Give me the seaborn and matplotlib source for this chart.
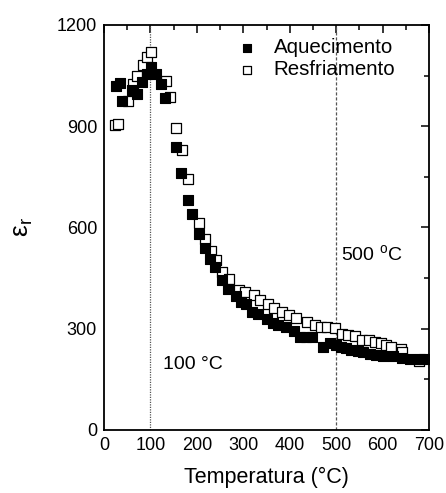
import matplotlib
matplotlib.use("Agg")
import matplotlib.pyplot as plt
import seaborn as sns
import pandas as pd
from matplotlib.ticker import MultipleLocator

# Aquecimento (heating) - filled squares
heat_T = [26, 34, 39, 61, 70, 82, 92, 101, 112, 123, 132, 155, 166, 180, 190,
          205, 217, 228, 239, 254, 268, 284, 294, 306, 318, 332, 350, 365, 375,
          393, 409, 422, 435, 449, 472, 487, 500, 510, 521, 533, 546, 557, 573,
          586, 600, 622, 641, 658, 681, 690]
heat_eps = [1019, 1028, 975, 1008, 997, 1032, 1054, 1077, 1056, 1026, 984, 838,
            760, 680, 639, 581, 538, 506, 484, 444, 417, 397, 380, 373, 351,
            344, 328, 318, 311, 304, 293, 277, 275, 276, 247, 259, 253, 247,
            242, 237, 235, 232, 225, 222, 220, 218, 212, 209, 209, 210]

# Resfriamento (cooling) - open squares
cool_T = [24, 31, 52, 62, 71, 83, 92, 101, 133, 143, 156, 167, 180, 205, 217,
          230, 241, 255, 270, 290, 304, 322, 337, 354, 366, 383, 398, 414, 438,
          454, 467, 481, 497, 512, 526, 541, 555, 571, 584, 596, 607, 618, 639,
          641, 679]
cool_eps = [905, 906, 975, 1026, 1048, 1080, 1106, 1121, 1035, 986, 896, 830,
            745, 614, 566, 530, 504, 468, 447, 416, 410, 400, 385, 373, 362,
            351, 341, 331, 321, 311, 305, 304, 302, 284, 281, 279, 267, 267,
            262, 257, 252, 247, 240, 230, 203]

x_ticks = [0, 100, 200, 300, 400, 500, 600, 700]
y_ticks = [0, 300, 600, 900, 1200]

df = pd.concat([
    pd.DataFrame({"T": heat_T, "eps": heat_eps, "serie": "Aquecimento"}),
    pd.DataFrame({"T": cool_T, "eps": cool_eps, "serie": "Resfriamento"}),
])

sns.set_style("white")
plt.rcParams['font.family'] = ['Liberation Sans', 'DejaVu Sans']
plt.rcParams['mathtext.fontset'] = 'custom'
plt.rcParams['mathtext.rm'] = 'Liberation Sans'
plt.rcParams['mathtext.it'] = 'Liberation Sans'
for k in ['text.color', 'axes.labelcolor', 'xtick.color', 'ytick.color']:
    plt.rcParams[k] = 'black'

fig = plt.figure(figsize=(4.46, 4.93), dpi=100)
ax = fig.add_axes([0.2332, 0.1278, 0.7287, 0.8215])

ax.axvline(100, color="#555555", lw=0.9, ls=(0, (1, 1)), zorder=1)
ax.axvline(500, color="#555555", lw=0.9, ls=(0, (2.5, 1.5)), zorder=1)

sns.scatterplot(data=df[df.serie == "Aquecimento"], x="T", y="eps", ax=ax,
                marker="s", s=54, color="black", edgecolor="black",
                linewidth=0.8, label="Aquecimento", zorder=3)
sns.scatterplot(data=df[df.serie == "Resfriamento"], x="T", y="eps", ax=ax,
                marker="s", s=54, facecolor="white", edgecolor="black",
                linewidth=0.9, label="Resfriamento", zorder=2)

ax.set_xlim(0, 700)
ax.set_ylim(0, 1200)
ax.set_xticks(x_ticks)
ax.set_yticks(y_ticks)
ax.xaxis.set_minor_locator(MultipleLocator(50))
ax.yaxis.set_minor_locator(MultipleLocator(150))
ax.tick_params(which="major", direction="in", length=6, width=1.1,
               top=True, right=True, labelsize=13, pad=5, colors="black")
ax.tick_params(which="minor", direction="in", length=3.5, width=1.1,
               top=True, right=True)
for sp in ax.spines.values():
    sp.set_linewidth(1.3)
    sp.set_color("black")

ax.set_xlabel("Temperatura (°C)", fontsize=15.5, labelpad=9)
ax.set_ylabel(r"$\mathrm{\varepsilon}_{\mathrm{r}}$", fontsize=19, labelpad=16)

ax.text(126, 195, "100 °C", fontsize=14, ha="left", va="center")
ax.text(510, 520, r"500 $^{\mathrm{o}}$C", fontsize=14, ha="left", va="center")

leg = ax.legend(loc="upper left", bbox_to_anchor=(0.335, 1.0), frameon=False,
                fontsize=14.8, handletextpad=0.3, labelspacing=0.15,
                markerscale=0.75, borderaxespad=0.25)

fig.savefig("out.png", dpi=100)
